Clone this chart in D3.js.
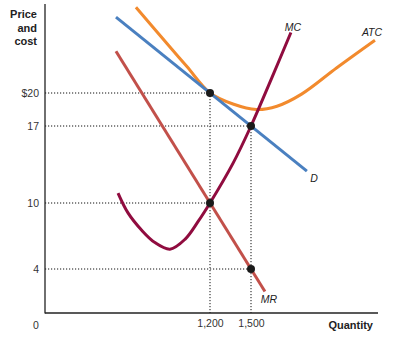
<!DOCTYPE html>
<html><head><meta charset="utf-8">
<script src="https://cdn.jsdelivr.net/npm/d3@7"></script>
<style>body{margin:0;background:#fff}svg{display:block}text{font-family:"Liberation Sans",Arial,sans-serif}</style>
</head><body><div id="c"></div>
<script>
// data
const yTicks = [20, 17, 10, 4];
const yTickLabels = ["$20", "17", "10", "4"];
const xTicks = [1200, 1500];
const xTickLabels = ["1,200", "1,500"];
const demandQ = [512, 1909];
const demandP = [26.9, 12.9];
const mrQ = [512, 1602];
const mrP = [23.8, 1.96];
const mcQ = [527, 600, 702, 797, 907, 1017, 1112, 1200, 1368, 1500, 1653, 1792];
const mcP = [10.9, 9.1, 7.5, 6.4, 5.8, 6.7, 8.3, 10, 13.6, 17, 21.4, 25.5];
const atcQ = [658, 885, 1031, 1200, 1368, 1540, 1690, 1870, 2128, 2407];
const atcP = [27.8, 24.5, 22.4, 20, 19.0, 18.5, 18.8, 19.9, 22.3, 24.8];
const pointsQ = [1200, 1500, 1200, 1500];
const pointsP = [20, 17, 10, 4];

const W = 394, H = 340;
const svg = d3.select("#c").append("svg").attr("width", W).attr("height", H);
const x = d3.scaleLinear().domain([0, 2400]).range([46, 374]);
const y = d3.scaleLinear().domain([0, 20]).range([313, 93]);
const axX0 = 45;
const FONT = '"Liberation Sans",Arial,sans-serif';

// dotted guides
const g = svg.append("g").attr("stroke", "#111").attr("stroke-width", 1).attr("stroke-dasharray", "1.2,1.8");
yTicks.forEach((v, i) => {
  g.append("line").attr("x1", axX0).attr("x2", x(pointsQ[i])).attr("y1", y(v)).attr("y2", y(v));
});
g.append("line").attr("x1", x(1200)).attr("x2", x(1200)).attr("y1", y(20)).attr("y2", y(0));
g.append("line").attr("x1", x(1500)).attr("x2", x(1500)).attr("y1", y(17)).attr("y2", y(0));

// axes
svg.append("line").attr("x1", axX0).attr("x2", axX0).attr("y1", 4).attr("y2", y(0)+0.5).attr("stroke", "#222").attr("stroke-width", 1.3);
svg.append("line").attr("x1", axX0).attr("x2", 378).attr("y1", y(0)).attr("y2", y(0)).attr("stroke", "#222").attr("stroke-width", 1.3);

const yAxis = d3.axisLeft(y).tickValues(yTicks).tickFormat((d, i) => yTickLabels[i]).tickSize(0).tickPadding(6);
const ya = svg.append("g").attr("transform", `translate(${axX0},0)`).call(yAxis)
  .attr("font-size", 10.5).attr("font-family", FONT);
ya.select(".domain").remove();
ya.selectAll("text").attr("fill", "#333");

const xAxis = d3.axisBottom(x).tickValues(xTicks).tickFormat((d, i) => xTickLabels[i]).tickSize(0).tickPadding(7);
const xa = svg.append("g").attr("transform", `translate(0,${y(0)})`).call(xAxis)
  .attr("font-size", 10.5).attr("font-family", FONT);
xa.select(".domain").remove();
xa.selectAll("text").attr("fill", "#333");

svg.append("text").attr("x", 36).attr("y", 329).attr("text-anchor", "middle").attr("font-size", 10.5).attr("fill", "#333").text("0");
svg.append("text").attr("x", 373).attr("y", 329).attr("text-anchor", "end").attr("font-size", 11).attr("font-weight", "bold").attr("fill", "#222").text("Quantity");
["Price", "and", "cost"].forEach((t, i) => {
  svg.append("text").attr("x", 37).attr("y", 18 + i * 13.5).attr("text-anchor", "end").attr("font-size", 11).attr("font-weight", "bold").attr("fill", "#222").text(t);
});

// curves
function draw(qs, ps, color, curve) {
  const line = d3.line().x(d => x(d[0])).y(d => y(d[1])).curve(curve);
  svg.append("path").datum(qs.map((q, i) => [q, ps[i]])).attr("d", line)
    .attr("fill", "none").attr("stroke", color).attr("stroke-width", 3).attr("stroke-linecap", "butt");
}
draw(mrQ, mrP, "#c2504a", d3.curveLinear);
draw(atcQ, atcP, "#f28a2d", d3.curveCatmullRom.alpha(0.5));
draw(demandQ, demandP, "#4a80c0", d3.curveLinear);
draw(mcQ, mcP, "#900c3f", d3.curveCatmullRom.alpha(0.5));

// points
svg.selectAll("circle.pt").data(pointsQ.map((q, i) => [q, pointsP[i]])).enter().append("circle")
  .attr("cx", d => x(d[0])).attr("cy", d => y(d[1])).attr("r", 4).attr("fill", "#1a1a1a");

// labels
const lab = (t, px, py) => svg.append("text").attr("x", px).attr("y", py).attr("text-anchor", "middle")
  .attr("font-size", 10.5).attr("font-style", "italic").attr("fill", "#222").text(t);
lab("MC", 293, 31);
lab("ATC", 372, 36);
lab("D", 314, 182);
lab("MR", 269, 303);
</script></body></html>
